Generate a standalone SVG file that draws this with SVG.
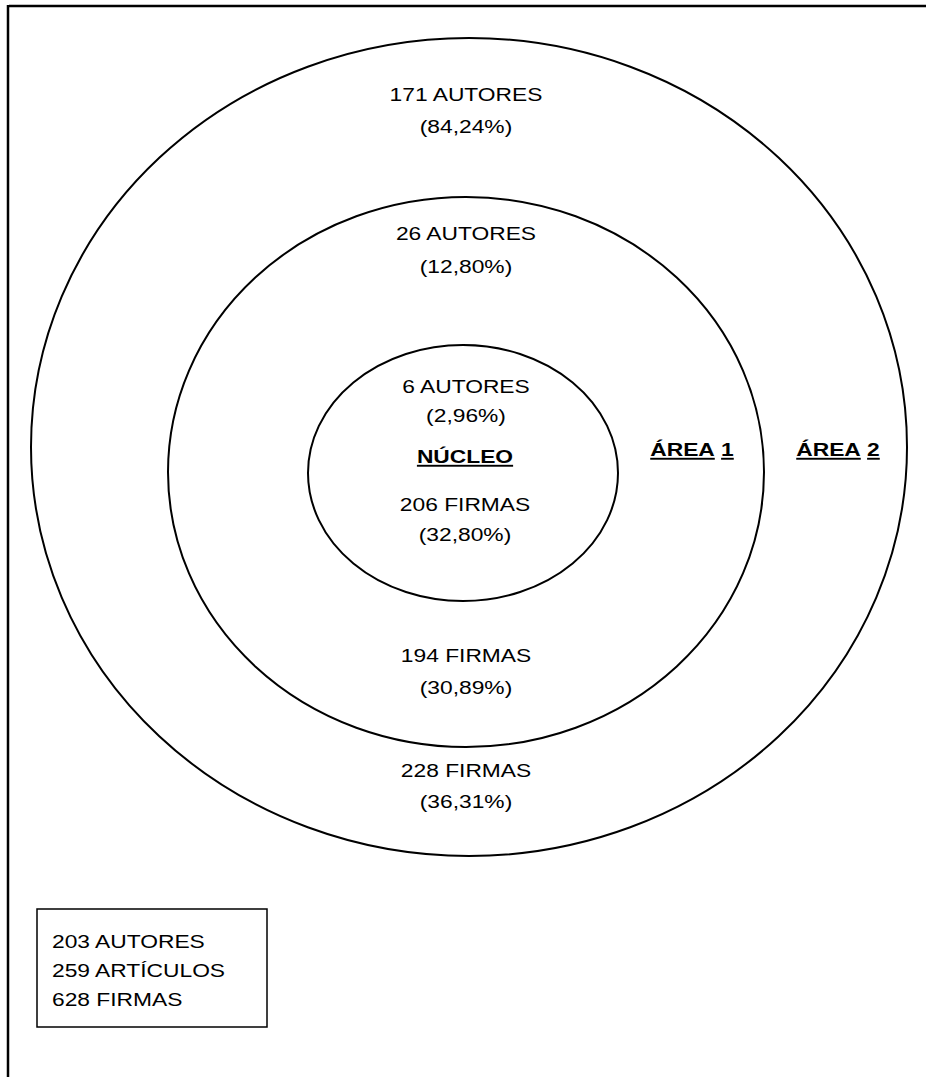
<svg xmlns="http://www.w3.org/2000/svg" width="926" height="1077" viewBox="0 0 926 1077">
<style>
.ring{fill:none;stroke:#000;stroke-width:2}
.t{font-family:"Liberation Sans",Arial,sans-serif;font-size:19px;fill:#000;text-anchor:middle}
.b{font-weight:bold}
.l{text-anchor:start}
</style>
<rect width="926" height="1077" fill="#fff"/>
<g id="frame">
<line x1="9" y1="6" x2="926" y2="6" stroke="#000" stroke-width="2.5"/>
<line x1="8" y1="5" x2="8" y2="1077" stroke="#000" stroke-width="2.5"/>
</g>
<g id="area2">
<ellipse class="ring" cx="469" cy="447" rx="438" ry="409"/>
<g transform="translate(466,101) scale(1.2,1)"><text class="t" x="0" y="0">171 AUTORES</text></g>
<g transform="translate(466,133) scale(1.2,1)"><text class="t" x="0" y="0">(84,24%)</text></g>
<g transform="translate(466,777) scale(1.2,1)"><text class="t" x="0" y="0">228 FIRMAS</text></g>
<g transform="translate(466,808) scale(1.2,1)"><text class="t" x="0" y="0">(36,31%)</text></g>
<g transform="translate(838,456) scale(1.2,1)"><text class="t b" x="0" y="0"><tspan text-decoration="underline">ÁREA</tspan> <tspan text-decoration="underline">2</tspan></text></g>
</g>
<g id="area1">
<ellipse class="ring" cx="466" cy="472" rx="298" ry="275"/>
<g transform="translate(466,240) scale(1.2,1)"><text class="t" x="0" y="0">26 AUTORES</text></g>
<g transform="translate(466,273) scale(1.2,1)"><text class="t" x="0" y="0">(12,80%)</text></g>
<g transform="translate(466,662) scale(1.2,1)"><text class="t" x="0" y="0">194 FIRMAS</text></g>
<g transform="translate(466,694) scale(1.2,1)"><text class="t" x="0" y="0">(30,89%)</text></g>
<g transform="translate(692,456) scale(1.2,1)"><text class="t b" x="0" y="0"><tspan text-decoration="underline">ÁREA</tspan> <tspan text-decoration="underline">1</tspan></text></g>
</g>
<g id="nucleo">
<ellipse class="ring" cx="463" cy="473" rx="155" ry="128"/>
<g transform="translate(466,393) scale(1.2,1)"><text class="t" x="0" y="0">6 AUTORES</text></g>
<g transform="translate(466,422) scale(1.2,1)"><text class="t" x="0" y="0">(2,96%)</text></g>
<g transform="translate(465,463) scale(1.2,1)"><text class="t b" x="0" y="0" text-decoration="underline">NÚCLEO</text></g>
<g transform="translate(465,511) scale(1.2,1)"><text class="t" x="0" y="0">206 FIRMAS</text></g>
<g transform="translate(465,541) scale(1.2,1)"><text class="t" x="0" y="0">(32,80%)</text></g>
</g>
<g id="legend">
<rect x="37" y="909" width="230" height="118" fill="none" stroke="#000" stroke-width="1.5"/>
<g transform="translate(52,948) scale(1.2,1)"><text class="t l" x="0" y="0">203 AUTORES</text></g>
<g transform="translate(52,977) scale(1.2,1)"><text class="t l" x="0" y="0">259 ARTÍCULOS</text></g>
<g transform="translate(52,1006) scale(1.2,1)"><text class="t l" x="0" y="0">628 FIRMAS</text></g>
</g>
<g id="connectors"></g>
</svg>
